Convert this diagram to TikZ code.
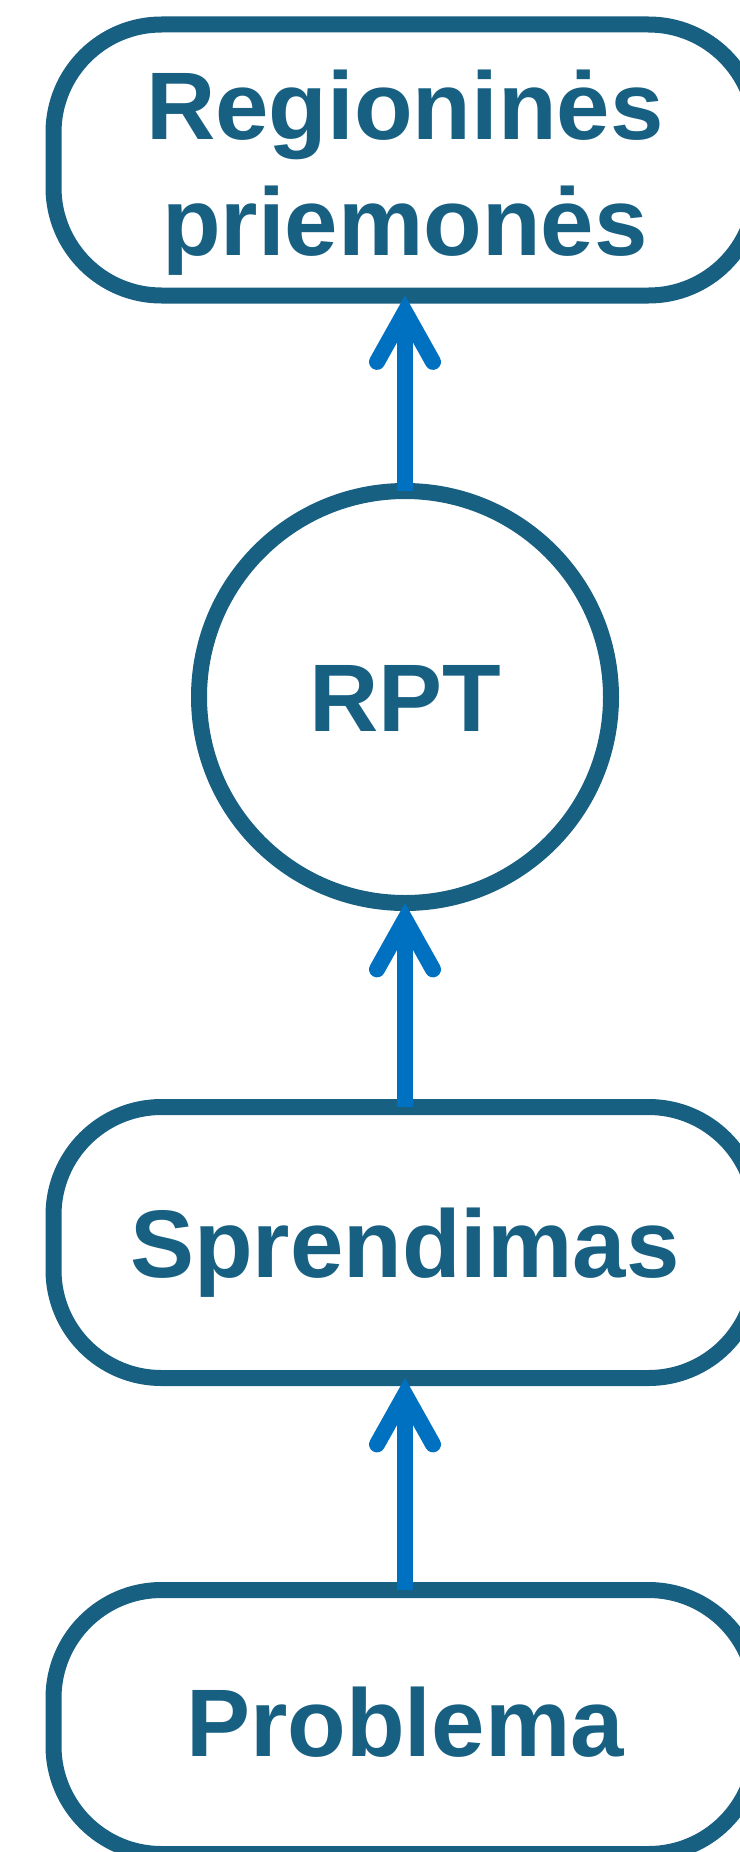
\documentclass[tikz,border=0pt]{standalone}
\usepackage{fontspec}
\setmainfont{Liberation Sans}
\usetikzlibrary{arrows.meta}
\definecolor{boxcol}{HTML}{186082}
\definecolor{arrowblue}{HTML}{0070C0}
\tikzset{
  pill/.style={draw=boxcol, line width=16pt, rounded corners=108pt, fill=white,
    minimum width=703pt, minimum height=271pt, inner sep=0pt, outer sep=0pt,
    text=boxcol, font=\fontsize{96}{116}\selectfont\bfseries,
    text height=69pt, text depth=0pt, align=center},
  ring/.style={draw=boxcol, line width=16pt, circle, fill=white,
    minimum size=412pt, inner sep=0pt, outer sep=0pt,
    text=boxcol, font=\fontsize{96}{116}\selectfont\bfseries,
    text height=69pt, text depth=0pt},
  conn/.style={draw=arrowblue, line width=16pt, line cap=butt,
    -{Straight Barb[length=50pt,width=56pt,line cap=round,line join=miter]}},
}
\begin{document}
\begin{tikzpicture}[x=1pt,y=-1pt]
\useasboundingbox (0,0) rectangle (739,1852);
\fill[white] (0,0) rectangle (739,1852);
\node[pill, text height=190pt] (meas) at (405,160) {Regioninės\\priemonės};
\node[ring] (rpt) at (405,697) {RPT};
\node[pill] (spr) at (405,1242.5) {Sprendimas};
\node[pill, minimum height=264pt] (prob) at (405,1722) {Problema};
\draw[conn] (rpt.north) -- (meas.south);
\draw[conn] (spr.north) -- (rpt.south);
\draw[conn] (prob.north) -- (spr.south);
\end{tikzpicture}
\end{document}
